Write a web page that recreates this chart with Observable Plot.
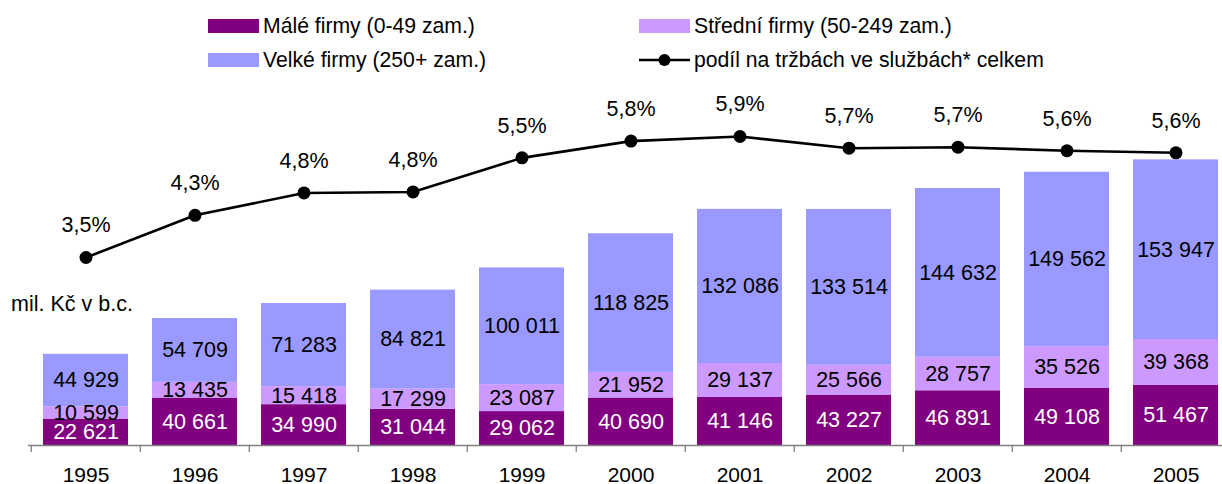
<!DOCTYPE html>
<html>
<head>
<meta charset="utf-8">
<script src="https://cdn.jsdelivr.net/npm/d3@7"></script>
<script src="https://cdn.jsdelivr.net/npm/@observablehq/plot@0.6"></script>
<style>
  html, body { margin: 0; padding: 0; background: #fff; overflow: hidden; }
  #wrap { position: relative; width: 1222px; height: 484px; font-family: "Liberation Sans", Arial, sans-serif; color: #000; }
  .lg { position: absolute; font-size: 21.2px; line-height: 1; white-space: nowrap; }
  .sw { position: absolute; width: 51px; height: 14px; }
  #chart { position: absolute; left: 0; top: 75px; }
  #unit { position: absolute; left: 11px; top: 292px; font-size: 21.5px; white-space: nowrap; }
</style>
</head>
<body>
<div id="wrap">
  <div id="legend"></div>
  <div id="unit"></div>
  <div id="chart"></div>
</div>
<script>
const years = ["1995","1996","1997","1998","1999","2000","2001","2002","2003","2004","2005"];
const small  = [22621, 40661, 34990, 31044, 29062, 40690, 41146, 43227, 46891, 49108, 51467];
const medium = [10599, 13435, 15418, 17299, 23087, 21952, 29137, 25566, 28757, 35526, 39368];
const large  = [44929, 54709, 71283, 84821, 100011, 118825, 132086, 133514, 144632, 149562, 153947];
const share  = [3.50, 4.33, 4.77, 4.79, 5.46, 5.79, 5.88, 5.65, 5.67, 5.60, 5.56];
const categories = ["Málé firmy (0-49 zam.)", "Střední firmy (50-249 zam.)", "Velké firmy (250+ zam.)"];
const lineLabel = "podíl na tržbách ve službách* celkem";
const unitLabel = "mil. Kč v b.c.";
const colors = ["#800080", "#CC99FF", "#9999FF"];

const series = [small, medium, large];
const rows = [];
series.forEach((arr, ci) => arr.forEach((v, i) => rows.push({year: years[i], cat: categories[ci], value: v, ci})));
const shareRows = years.map((y, i) => ({year: y, share: share[i]}));

// secondary axis: share (%) mapped into the primary value units
const sec = d3.scaleLinear().domain([3.5, 5.88]).range([161100, 264800]);

const fmt = v => String(v).replace(/\B(?=(\d{3})+(?!\d))/g, " ");
const pct = v => v.toFixed(1).replace(".", ",") + "%";

const H = 409;
const base = 370;
const step = (1232.8 - 28.3) / years.length;

const plot = Plot.plot({
  width: 1222,
  height: H,
  marginLeft: 28,
  marginRight: 0,
  marginTop: 0,
  marginBottom: H - base,
  style: {fontFamily: '"Liberation Sans", Arial, sans-serif', fontSize: "21px", overflow: "visible", background: "transparent"},
  x: {domain: years, range: [28.3, 1232.8], paddingInner: 0.22, paddingOuter: 0.11, axis: null},
  y: {domain: [0, 300000], range: [base, base - 300000 / 857], axis: null},
  color: {domain: categories, range: colors},
  marks: [
    Plot.barY(rows, {x: "year", y: "value", fill: "cat", order: null}),
    Plot.text(rows, Plot.stackY({x: "year", y: "value", order: null, text: d => fmt(d.value),
      fill: d => d.ci === 0 ? "#fff" : "#000", fontSize: 21.5})),
    Plot.ruleY([0], {stroke: "#808080", strokeWidth: 1.3}),
    Plot.ruleX(years, {x: d => d, y1: 0, y2: 0, insetBottom: -7, dx: -step / 2, stroke: "#808080", strokeWidth: 1.3}),
    Plot.text(years, {x: d => d, y: () => 0, dy: 30, text: d => d, fontSize: 21, fill: "#000"}),
    Plot.line(shareRows, {x: "year", y: d => sec(d.share), stroke: "#000", strokeWidth: 2.6}),
    Plot.dot(shareRows, {x: "year", y: d => sec(d.share), r: 6.5, fill: "#000", stroke: "none"}),
    Plot.text(shareRows, {x: "year", y: d => sec(d.share), dy: -32, text: d => pct(d.share), fontSize: 21.5, fill: "#000"})
  ]
});
document.getElementById("chart").appendChild(plot);

document.getElementById("unit").textContent = unitLabel;

// legend
const lg = document.getElementById("legend");
const items = [
  {label: categories[0], color: colors[0], x: 208, y: 26, type: "sw"},
  {label: categories[1], color: colors[1], x: 639, y: 26, type: "sw"},
  {label: categories[2], color: colors[2], x: 208, y: 60, type: "sw"},
  {label: lineLabel, color: "#000", x: 639, y: 60, type: "line"}
];
items.forEach(it => {
  if (it.type === "sw") {
    const s = document.createElement("div");
    s.className = "sw";
    s.style.left = it.x + "px";
    s.style.top = (it.y - 7) + "px";
    s.style.background = it.color;
    lg.appendChild(s);
  } else {
    const ns = "http://www.w3.org/2000/svg";
    const svg = document.createElementNS(ns, "svg");
    svg.setAttribute("width", 52);
    svg.setAttribute("height", 16);
    svg.style.position = "absolute";
    svg.style.left = it.x + "px";
    svg.style.top = (it.y - 8) + "px";
    const l = document.createElementNS(ns, "line");
    l.setAttribute("x1", 0); l.setAttribute("x2", 51);
    l.setAttribute("y1", 8); l.setAttribute("y2", 8);
    l.setAttribute("stroke", "#000"); l.setAttribute("stroke-width", 2.6);
    svg.appendChild(l);
    const c = document.createElementNS(ns, "circle");
    c.setAttribute("cx", 25.5); c.setAttribute("cy", 8); c.setAttribute("r", 6);
    c.setAttribute("fill", "#000");
    svg.appendChild(c);
    lg.appendChild(svg);
  }
  const t = document.createElement("div");
  t.className = "lg";
  t.textContent = it.label;
  t.style.left = (it.x + 55) + "px";
  t.style.top = (it.y - 11) + "px";
  lg.appendChild(t);
});
</script>
</body>
</html>
